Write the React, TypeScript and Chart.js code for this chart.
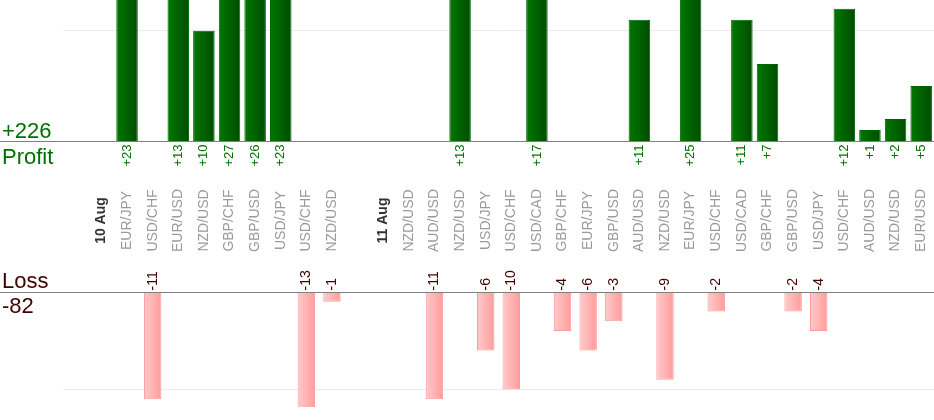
import React, { useEffect, useRef } from "react";
import { Chart, registerables } from "chart.js";

Chart.register(...registerables);

const categories = [
  "", "10 Aug", "EUR/JPY", "USD/CHF", "EUR/USD", "NZD/USD", "GBP/CHF", "GBP/USD", "USD/JPY",
  "USD/CHF", "NZD/USD", "", "11 Aug", "NZD/USD", "AUD/USD", "NZD/USD", "USD/JPY", "USD/CHF",
  "USD/CAD", "GBP/CHF", "EUR/JPY", "GBP/USD", "AUD/USD", "NZD/USD", "EUR/JPY", "USD/CHF",
  "USD/CAD", "GBP/CHF", "GBP/USD", "USD/JPY", "USD/CHF", "AUD/USD", "NZD/USD", "EUR/USD",
];
const dayLabels = ["10 Aug", "11 Aug"];

const profit = [
  null, null, 23, null, 13, 10, 27, 26, 23, null, null, null, null, null, null, 13, null,
  null, 17, null, null, null, 11, null, 25, null, 11, 7, null, null, 12, 1, 2, 5,
];
const loss = [
  null, null, null, -11, null, null, null, null, null, -13, -1, null, null, null, -11, null,
  -6, -10, null, -4, -6, -3, null, -9, null, -2, null, null, -2, -4, null, null, null, null,
];

const FONT = "'Liberation Sans', Arial, sans-serif";
const GREEN = "#007000";
const DARK_RED = "#3f0000";

const sum = (arr: (number | null)[]) => arr.reduce<number>((a, v) => a + (v ?? 0), 0);

// horizontal gradient across each bar
const barFill = (left: string, right: string, pct: number) => (ctx: any) => {
  const chart = ctx.chart;
  const x = chart.scales.x;
  if (!chart.chartArea || !x || ctx.dataIndex === undefined) return left;
  const cx = x.getPixelForValue(ctx.dataIndex);
  const half = ((x.getPixelForValue(1) - x.getPixelForValue(0)) * pct) / 2;
  const g = chart.ctx.createLinearGradient(cx - half, 0, cx + half, 0);
  g.addColorStop(0, left);
  g.addColorStop(1, right);
  return g;
};

const vText = (c: CanvasRenderingContext2D, text: string, x: number, y: number, align: CanvasTextAlign) => {
  c.save();
  c.translate(x, y);
  c.rotate(-Math.PI / 2);
  c.textAlign = align;
  c.textBaseline = "middle";
  c.fillText(text, 0, 0);
  c.restore();
};

const labelsPlugin = {
  id: "pnlLabels",
  afterDatasetsDraw(chart: any) {
    const c: CanvasRenderingContext2D = chart.ctx;
    const x = chart.scales.x;
    const y0p = Math.round(chart.scales.yP.getPixelForValue(0)) + 0.5;
    const y0l = Math.round(chart.scales.yL.getPixelForValue(0)) + 0.5;

    // zero lines
    c.save();
    c.strokeStyle = "#808080";
    c.lineWidth = 1.2;
    c.beginPath();
    c.moveTo(0, y0p);
    c.lineTo(chart.width, y0p);
    c.moveTo(0, y0l);
    c.lineTo(chart.width, y0l);
    c.stroke();

    // category labels
    const mid = (y0p + y0l) / 2 + 3.5;
    categories.forEach((label, i) => {
      if (!label) return;
      const day = dayLabels.includes(label);
      c.font = `${day ? "bold " : ""}14px ${FONT}`;
      c.fillStyle = day ? "#333333" : "#9a9a9a";
      vText(c, label, x.getPixelForValue(i), mid, "center");
    });

    // value labels
    c.font = `13px ${FONT}`;
    c.fillStyle = GREEN;
    profit.forEach((v, i) => {
      if (v == null) return;
      vText(c, `+${v}`, x.getPixelForValue(i), y0p + 3, "right");
    });
    c.font = `14px ${FONT}`;
    c.fillStyle = DARK_RED;
    loss.forEach((v, i) => {
      if (v == null) return;
      vText(c, `${v}`, x.getPixelForValue(i), y0l - 2, "left");
    });

    // totals
    c.font = `22px ${FONT}`;
    c.textAlign = "left";
    c.textBaseline = "alphabetic";
    c.fillStyle = GREEN;
    c.fillText(`+${sum(profit)}`, 2, y0p - 4);
    c.fillText("Profit", 2, y0p + 22);
    c.fillStyle = DARK_RED;
    c.fillText("Loss", 2, y0l - 5);
    c.fillText(`${sum(loss)}`, 2, y0l + 20);
    c.restore();
  },
};

const hiddenAxis = (min: number, max: number, weight: number, grid: number) => ({
  type: "linear" as const,
  position: "left" as const,
  stack: "pnl",
  stackWeight: weight,
  min,
  max,
  afterBuildTicks: (s: any) => {
    s.ticks = [{ value: grid }];
  },
  ticks: { display: false },
  border: { display: false },
  grid: { color: "#ececec", drawTicks: false },
});

const App = () => {
  const canvasRef = useRef<HTMLCanvasElement>(null);
  const chartRef = useRef<Chart | null>(null);

  useEffect(() => {
    document.body.style.margin = "0";
    if (!canvasRef.current) return;
    chartRef.current = new Chart(canvasRef.current, {
      type: "bar",
      data: {
        labels: categories,
        datasets: [
          {
            label: "Profit",
            data: profit,
            yAxisID: "yP",
            grouped: false,
            barPercentage: 0.84,
            categoryPercentage: 1,
            backgroundColor: barFill("#007800", "#004c00", 0.84),
            borderColor: "#006600",
            borderWidth: 1,
          },
          {
            label: "Loss",
            data: loss,
            yAxisID: "yL",
            grouped: false,
            barPercentage: 0.68,
            categoryPercentage: 1,
            backgroundColor: barFill("#ffcaca", "#ff9c9c", 0.68),
            borderColor: "#ff9a9a",
            borderWidth: 1,
          },
        ],
      },
      options: {
        responsive: true,
        maintainAspectRatio: false,
        animation: false,
        layout: { padding: { left: 63, right: 0, top: 0, bottom: 13 } },
        plugins: { legend: { display: false }, tooltip: { enabled: false } },
        scales: {
          x: { display: false },
          // stacked left axes are placed bottom-up in definition order
          yL: hiddenAxis(-11.8, 7.8, 191, -10),
          yP: hiddenAxis(-6.8, 12.8, 216, 10),
        },
      },
      plugins: [labelsPlugin],
    });
    return () => {
      chartRef.current?.destroy();
    };
  }, []);

  return (
    <div style={{ position: "relative", width: 934, height: 420 }}>
      <canvas ref={canvasRef} />
    </div>
  );
};

export default App;
